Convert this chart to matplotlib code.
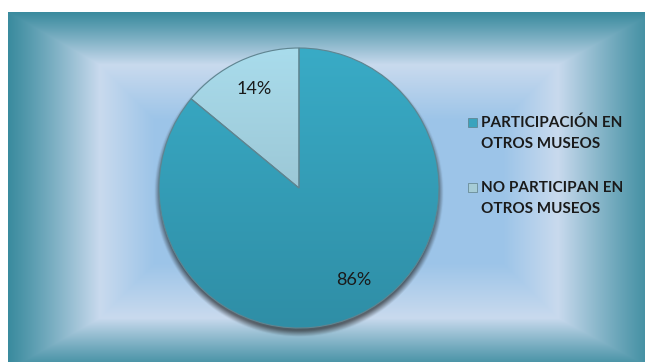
import numpy as np
import matplotlib.pyplot as plt
from matplotlib.patches import Rectangle, Patch
from matplotlib.legend_handler import HandlerPatch
from matplotlib.colors import to_rgb

# ------------------------------------------------------------
labels = ["PARTICIPACIÓN EN\nOTROS MUSEOS", "NO PARTICIPAN EN\nOTROS MUSEOS"]
values = [86, 14]
colors_top = ["#39abc6", "#a9dcec"]
colors_bot = ["#2f8ea6", "#8fb3c0"]
legend_colors = ["#3aa3bd", "#a6ccd6"]

W, H = 645, 362
fig = plt.figure(figsize=(W / 100, H / 100), dpi=100)

# ---- framed gradient panel -----------------------------------
bg = fig.add_axes([0, 0, 1, 1])
bg.set_xlim(0, W)
bg.set_ylim(H, 0)
bg.axis("off")

x0, y0, x1, y1 = 8, 12, 655, 370          # outer panel edges
fw = {"l": 92, "r": 97, "t": 53, "b": 52}  # bevel widths
yy, xx = np.mgrid[y0:H, x0:W] + 0.5
dl, dr = (xx - x0), (x1 - xx)
dt, db = (yy - y0), (y1 - yy)
d = np.minimum.reduce([dl / fw["l"], dr / fw["r"], dt / fw["t"], db / fw["b"]])
inner = np.minimum.reduce([dl - fw["l"], dr - fw["r"], dt - fw["t"], db - fw["b"]])

teal = np.array(to_rgb("#3a8b9e"))
light = np.array(to_rgb("#c9daee"))
blue = np.array(to_rgb("#9cc4e8"))
t = np.clip(d, 0, 1)[..., None]
s = np.clip(inner / 55.0, 0, 1)[..., None]
img = teal + (light - teal) * t ** 1.1
img = np.where(inner[..., None] > 0, light + (blue - light) * s, img)
bg.imshow(img, extent=[x0, W, H, y0], interpolation="bilinear", aspect="auto")

# ---- pie -----------------------------------------------------
cx, cy, R = 299, 188, 140
pad = 1.12
ax = fig.add_axes([(cx - R * pad) / W, (H - cy - R * pad) / H, 2 * R * pad / W, 2 * R * pad / H])
ax.patch.set_alpha(0)

# soft shadow under the pie
g = np.linspace(-pad, pad, 320)
gx, gy = np.meshgrid(g, g)
rr = np.hypot(gx, gy + 0.03)
shadow = np.zeros(gx.shape + (4,))
shadow[..., :3] = 0.08
shadow[..., 3] = np.clip(1 - (rr - 0.99) / 0.045, 0, 1) * 0.6
ax.imshow(shadow, extent=[-pad, pad, -pad, pad], origin="lower", zorder=0, interpolation="bilinear")

wedges, texts, autotexts = ax.pie(values, startangle=90, counterclock=False,
                                  autopct="%1.0f%%", pctdistance=0.77,
                                  wedgeprops=dict(edgecolor="#5f8591", linewidth=0.8),
                                  textprops=dict(fontsize=13, color="#1a1a1a", family="Lato"))
for i, w in enumerate(wedges):
    grad = np.linspace(0, 1, 256)[:, None, None]
    lo, hi = np.array(to_rgb(colors_bot[i])), np.array(to_rgb(colors_top[i]))
    c = np.repeat(lo + (hi - lo) * grad, 2, axis=1)
    im = ax.imshow(c, extent=[-1, 1, -1, 1], origin="lower", zorder=1.5, interpolation="bilinear")
    im.set_clip_path(w)
    w.set_facecolor("none")
    w.set_zorder(2)
for a in autotexts:
    a.set_zorder(3)
autotexts[0].set_position((0.39, -0.66))
autotexts[1].set_position((-0.32, 0.71))

ax.set_xlim(-pad, pad)
ax.set_ylim(-pad, pad)
ax.set_aspect("auto")


# ---- legend (marker aligned with first text line) ------------
def top_square(legend, orig_handle, xdescent, ydescent, width, height, fontsize):
    sz = 0.6 * fontsize
    return Rectangle((width - sz - 1, height - ydescent - sz - 1), sz, sz)


handles = [Patch(facecolor=c, edgecolor="#5e7f88", linewidth=0.5) for c in legend_colors]
leg = ax.legend(handles, labels, loc="upper left", bbox_to_anchor=(459 / W, 1 - 108 / H),
                bbox_transform=fig.transFigure, frameon=False,
                prop=dict(family="Lato", weight="bold", size=11),
                handlelength=0.75, handleheight=3.2, handletextpad=0.2, labelspacing=1.9,
                borderpad=0, handler_map={Patch: HandlerPatch(patch_func=top_square)})
for txt in leg.get_texts():
    txt.set_linespacing(1.6)
    txt.set_color("#1a1a1a")

fig.savefig("out.png", dpi=100)
plt.close()
